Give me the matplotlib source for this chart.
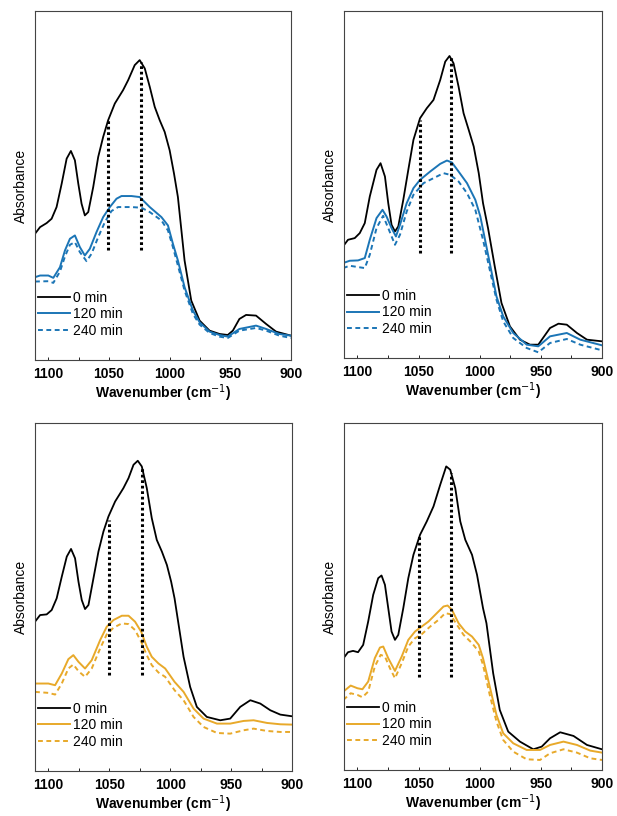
import matplotlib
matplotlib.use("Agg")
import matplotlib.pyplot as plt
from matplotlib.ticker import MultipleLocator

plt.rcParams['font.family'] = ['Liberation Sans', 'DejaVu Sans']

BLUE = '#1b75b6'
GOLD = '#e8a92a'

labels = ['0 min', '120 min', '240 min']

# ---- panel A (top left) ----
a_x0 = [1111.0, 1106.8, 1101.4, 1097.3, 1093.2, 1089.0, 1084.9, 1081.4, 1078.1, 1075.3,
        1072.6, 1069.9, 1067.1, 1063.0, 1058.9, 1054.8, 1050.7, 1045.2, 1038.4, 1034.2,
        1028.8, 1024.7, 1020.5, 1016.4, 1012.3, 1008.2, 1004.1, 1000.0, 996.4, 993.2,
        987.7, 982.2, 975.3, 967.1, 958.9, 952.1, 947.9, 942.5, 937.0, 928.8,
        920.5, 912.3, 900.0]
a_y0 = [37.8, 39.8, 41.0, 42.3, 45.8, 52.8, 60.3, 62.6, 59.8, 52.8,
        46.8, 43.3, 44.3, 51.8, 60.8, 66.8, 71.8, 76.8, 80.8, 83.8,
        88.3, 89.8, 87.3, 81.8, 75.8, 71.8, 68.3, 62.8, 55.8, 48.8,
        29.8, 17.8, 11.8, 8.8, 7.8, 7.5, 8.8, 12.3, 13.5, 13.3,
        10.8, 8.5, 7.3]
a_x1 = [1111.0, 1106.8, 1100.0, 1095.9, 1090.4, 1086.3, 1082.2, 1078.1, 1074.0, 1069.9,
        1065.8, 1060.3, 1054.8, 1049.3, 1043.8, 1039.7, 1031.5, 1024.7, 1016.4, 1006.8,
        1001.4, 997.3, 993.2, 987.7, 980.8, 975.3, 967.1, 958.9, 952.1, 942.5,
        928.8, 920.5, 909.6, 900.0]
a_y1 = [24.8, 25.3, 25.3, 24.6, 27.8, 32.8, 36.3, 37.3, 33.8, 31.3,
        33.3, 38.3, 42.8, 45.8, 48.3, 49.1, 49.1, 48.8, 45.8, 42.8,
        40.3, 34.8, 29.8, 21.8, 14.8, 11.3, 8.5, 7.5, 7.0, 9.3,
        10.3, 9.3, 7.8, 7.3]
a_x2 = [1111.0, 1100.0, 1095.9, 1090.4, 1086.3, 1082.2, 1078.1, 1074.0, 1068.5, 1064.4,
        1058.9, 1053.4, 1048.0, 1042.5, 1031.5, 1023.3, 1016.4, 1006.8, 1001.4, 997.3,
        993.2, 987.7, 980.8, 975.3, 967.1, 958.9, 952.1, 942.5, 928.8, 920.5,
        909.6, 900.0]
a_y2 = [23.5, 23.6, 23.1, 26.5, 31.0, 34.5, 35.3, 32.3, 29.6, 31.8,
        36.8, 41.3, 44.6, 45.8, 45.8, 45.6, 44.3, 41.8, 38.8, 33.8,
        28.3, 20.8, 13.8, 10.6, 8.1, 7.0, 6.6, 8.8, 9.6, 8.8,
        7.3, 6.6]
a_marks = [1050.5, 1023.3]
a_tops = [72.3, 89.3]
a_bottom = 32.8

# ---- panel B (top right) ----
b_x0 = [1111.8, 1107.7, 1102.2, 1098.1, 1094.0, 1089.9, 1084.4, 1081.1, 1077.5, 1074.8,
        1072.1, 1069.3, 1066.6, 1062.5, 1058.4, 1054.2, 1048.8, 1043.3, 1037.8, 1032.3,
        1028.2, 1024.7, 1021.4, 1017.3, 1013.2, 1009.0, 1004.9, 1000.8, 997.3, 993.2,
        987.7, 982.2, 975.3, 967.1, 958.9, 952.1, 942.5, 935.6, 928.8, 920.5,
        912.3, 900.0]
b_y0 = [33.5, 35.5, 36.0, 37.5, 40.5, 48.5, 56.5, 58.5, 54.5, 46.5,
        40.0, 38.0, 39.5, 47.5, 56.5, 65.5, 72.0, 75.0, 77.5, 83.5,
        89.0, 90.7, 88.5, 81.5, 73.5, 68.5, 63.5, 55.5, 46.5, 39.0,
        27.5, 16.5, 9.5, 5.5, 4.0, 4.0, 9.0, 10.3, 10.0, 7.5,
        5.5, 5.0]
b_x1 = [1111.8, 1106.3, 1099.5, 1094.0, 1089.9, 1084.4, 1079.5, 1076.2, 1072.1, 1068.5,
        1065.2, 1059.7, 1054.2, 1048.8, 1040.5, 1032.3, 1026.8, 1022.7, 1017.3, 1010.4,
        1003.6, 999.5, 997.3, 991.8, 986.3, 980.8, 972.6, 961.6, 952.1, 942.5,
        928.8, 917.8, 900.0]
b_y1 = [28.5, 29.2, 29.3, 30.0, 35.5, 42.0, 44.5, 42.5, 39.0, 36.5,
        40.0, 46.5, 51.0, 53.5, 56.0, 58.3, 59.3, 58.7, 56.0, 52.5,
        47.5, 42.5, 38.5, 28.5, 18.5, 12.5, 7.5, 4.0, 3.5, 6.5,
        7.5, 5.5, 3.8]
b_x2 = [1111.8, 1106.3, 1099.5, 1094.0, 1089.9, 1084.4, 1079.0, 1074.8, 1069.3, 1065.2,
        1059.7, 1054.2, 1046.0, 1037.8, 1029.6, 1024.1, 1017.3, 1010.4, 1003.6, 997.3,
        991.8, 986.3, 980.8, 972.6, 961.6, 952.1, 942.5, 928.8, 917.8, 900.0]
b_y2 = [27.0, 27.7, 27.3, 27.0, 31.0, 39.0, 42.7, 39.0, 34.0, 37.0,
        44.0, 49.0, 52.5, 54.0, 55.5, 55.0, 53.0, 49.5, 44.5, 35.5,
        26.5, 17.5, 11.0, 6.0, 3.0, 1.7, 4.5, 5.7, 4.0, 2.3]
b_marks = [1048.8, 1023.3]
b_tops = [71.5, 90.5]
b_bottom = 31.5

# ---- panel C (bottom left) ----
c_x0 = [1111.0, 1106.8, 1101.4, 1097.3, 1093.2, 1089.0, 1084.9, 1081.4, 1078.1, 1075.3,
        1072.6, 1069.9, 1067.1, 1063.0, 1058.9, 1054.8, 1050.7, 1045.2, 1038.4, 1034.2,
        1030.1, 1026.6, 1023.3, 1019.2, 1015.1, 1011.0, 1006.8, 1002.7, 999.2, 996.4,
        994.5, 989.0, 983.6, 978.1, 969.9, 958.9, 950.7, 942.5, 934.2, 926.0,
        917.8, 909.6, 900.0]
c_y0 = [44.7, 46.7, 46.9, 48.2, 51.7, 58.2, 64.2, 66.5, 63.7, 56.7,
        51.2, 48.5, 49.7, 57.7, 65.7, 71.7, 76.2, 80.7, 84.7, 87.7,
        91.7, 92.9, 91.2, 84.7, 75.7, 69.2, 65.7, 61.7, 56.7, 51.7,
        47.2, 34.2, 25.2, 19.2, 16.2, 15.2, 15.7, 19.2, 21.2, 20.2,
        18.2, 16.9, 16.4]
c_x1 = [1111.0, 1100.0, 1094.5, 1089.0, 1083.6, 1079.5, 1075.3, 1069.9, 1064.4, 1057.5,
        1052.1, 1046.6, 1039.7, 1034.2, 1028.8, 1023.8, 1019.2, 1015.1, 1009.6, 1004.1,
        996.4, 989.0, 980.8, 972.6, 961.6, 950.7, 939.7, 931.5, 920.5, 909.6,
        900.0]
c_y1 = [26.2, 26.2, 25.7, 29.2, 33.5, 34.7, 32.7, 30.7, 33.2, 39.2,
        43.2, 45.2, 46.5, 46.5, 44.7, 41.7, 37.2, 34.2, 32.2, 30.7,
        26.7, 23.7, 18.7, 15.7, 14.2, 14.2, 15.0, 15.2, 14.4, 14.0,
        13.9]
c_x2 = c_x1
c_y2 = [23.7, 23.4, 22.9, 26.2, 30.7, 31.9, 29.9, 28.2, 30.7, 36.7,
        40.9, 42.9, 44.2, 44.0, 42.2, 38.7, 34.7, 31.7, 29.5, 28.2,
        24.2, 21.2, 16.2, 13.2, 11.4, 11.2, 12.2, 12.7, 12.0, 11.7,
        11.7]
c_marks = [1049.9, 1023.3]
c_tops = [75.2, 91.2]
c_bottom = 28.9

# ---- panel D (bottom right) ----
d_x0 = [1111.8, 1107.7, 1103.6, 1099.5, 1095.3, 1091.2, 1087.1, 1083.0, 1080.3, 1077.5,
        1074.8, 1072.1, 1069.3, 1066.6, 1062.5, 1058.4, 1054.2, 1048.8, 1043.3, 1037.8,
        1032.3, 1027.4, 1024.1, 1020.0, 1015.9, 1011.8, 1006.3, 1002.2, 997.3, 994.5,
        989.0, 983.6, 976.7, 967.1, 956.2, 949.3, 942.5, 934.2, 923.3, 912.3,
        900.0]
d_y0 = [33.3, 35.3, 35.7, 35.3, 37.5, 44.5, 52.5, 57.5, 58.3, 55.5,
        48.5, 41.5, 39.0, 40.5, 48.5, 57.5, 64.5, 70.5, 74.5, 79.0,
        85.5, 91.0, 90.0, 84.5, 74.5, 69.0, 64.5, 58.5, 48.5, 44.0,
        29.0, 18.0, 11.5, 8.5, 6.2, 7.0, 9.5, 11.3, 10.2, 7.5,
        6.2]
d_x1 = [1111.5, 1105.5, 1100.0, 1095.9, 1091.2, 1085.8, 1081.6, 1078.9, 1074.8, 1069.3,
        1063.8, 1058.4, 1052.9, 1047.4, 1041.9, 1035.1, 1029.6, 1026.3, 1022.7, 1017.3,
        1011.8, 1006.3, 1000.8, 997.3, 991.8, 986.3, 980.8, 972.6, 961.6, 950.7,
        942.5, 931.5, 920.5, 909.6, 900.0]
d_y1 = [23.5, 25.3, 24.5, 24.2, 26.5, 33.5, 36.7, 37.0, 33.5, 29.7,
        34.0, 39.0, 41.5, 43.0, 44.5, 47.0, 49.0, 49.3, 48.0, 44.0,
        41.5, 40.0, 37.5, 33.5, 25.0, 16.5, 11.0, 8.0, 6.0, 6.0,
        7.5, 8.5, 7.5, 5.8, 5.2]
d_x2 = [1111.5, 1105.5, 1100.0, 1095.9, 1091.2, 1085.8, 1081.0, 1077.5, 1073.4, 1069.3,
        1063.8, 1058.4, 1052.9, 1047.4, 1040.5, 1033.7, 1028.2, 1024.1, 1018.6, 1013.2,
        1006.3, 1000.8, 997.3, 991.8, 986.3, 980.8, 972.6, 961.6, 950.7, 942.5,
        931.5, 920.5, 909.6, 900.0]
d_y2 = [21.0, 23.0, 22.5, 21.8, 23.5, 31.0, 34.5, 34.0, 30.5, 27.5,
        32.0, 37.0, 39.5, 40.7, 43.0, 45.0, 47.0, 46.7, 43.5, 40.5,
        38.0, 35.5, 31.5, 22.5, 14.5, 9.0, 5.5, 3.2, 3.0, 5.0,
        6.2, 5.2, 3.5, 3.0]
d_marks = [1049.3, 1023.3]
d_tops = [70.0, 89.0]
d_bottom = 27.8

panels = [
    ([0.0567, 0.5588, 0.4149, 0.4277], BLUE, (a_x0, a_y0), (a_x1, a_y1), (a_x2, a_y2),
     a_marks, a_tops, a_bottom, 104.5),
    ([0.5575, 0.5613, 0.4182, 0.4252], BLUE, (b_x0, b_y0), (b_x1, b_y1), (b_x2, b_y2),
     b_marks, b_tops, b_bottom, 104.2),
    ([0.0567, 0.0551, 0.4165, 0.4265], GOLD, (c_x0, c_y0), (c_x1, c_y1), (c_x2, c_y2),
     c_marks, c_tops, c_bottom, 104.2),
    ([0.5575, 0.0564, 0.4182, 0.4252], GOLD, (d_x0, d_y0), (d_x1, d_y1), (d_x2, d_y2),
     d_marks, d_tops, d_bottom, 104.0),
]

fig = plt.figure(figsize=(6.17, 8.16), dpi=100)

for rect, col, s0, s1, s2, marks, tops, bottom, ytop in panels:
    ax = fig.add_axes(rect)
    ax.plot(s0[0], s0[1], color='black', lw=1.3, label=labels[0])
    ax.plot(s1[0], s1[1], color=col, lw=1.4, label=labels[1])
    ax.plot(s2[0], s2[1], color=col, lw=1.4, ls=(0, (2.5, 1.8)), label=labels[2])
    for m, t in zip(marks, tops):
        ax.plot([m, m], [bottom, t], color='black', lw=2.2, ls=(0, (0.9, 0.9)))

    ax.set_xlim(1111, 900)
    ax.set_ylim(0, ytop)
    ax.xaxis.set_major_locator(MultipleLocator(50))
    ax.xaxis.set_minor_locator(MultipleLocator(25))
    ax.tick_params(axis='x', which='both', direction='in', length=2, width=0.6,
                   labelsize=10, pad=5)
    for lab in ax.get_xticklabels():
        lab.set_fontweight('bold')
    ax.set_yticks([])
    for sp in ax.spines.values():
        sp.set_color('#444444')
        sp.set_linewidth(0.8)
    ax.set_xlabel('Wavenumber (cm$^{-1}$)', fontsize=10, fontweight='bold', labelpad=1)
    ax.set_ylabel('Absorbance', fontsize=10, labelpad=5)
    ax.legend(loc='upper left', bbox_to_anchor=(-0.01, 0.215), frameon=False,
              fontsize=10, handlelength=2.3, handletextpad=0.2, labelspacing=0.18,
              borderaxespad=0)

fig.savefig('out.png', dpi=100)
